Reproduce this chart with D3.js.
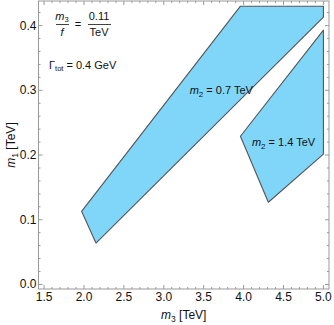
<!DOCTYPE html>
<html>
<head>
<meta charset="utf-8">
<script src="https://cdn.jsdelivr.net/npm/d3@7"></script>
<style>
  body { margin: 0; background: #fff; }
  text { font-family: "Liberation Sans", Arial, sans-serif; fill: #111; }
</style>
</head>
<body>
<div id="chart"></div>
<script>
// regions in the (m3, m1) plane, TeV
var region07 = [[1.97, 0.113], [2.15, 0.064], [5.0, 0.413], [5.0, 0.430], [3.96, 0.430]];
var region14 = [[5.0, 0.393], [3.96, 0.229], [4.31, 0.127], [5.0, 0.2015]];
var regionLabels = [
    {m2: "0.7", x: 3.72, y: 0.30},
    {m2: "1.4", x: 4.5, y: 0.22}
];
var xTicks = [1.5, 2.0, 2.5, 3.0, 3.5, 4.0, 4.5, 5.0];
var yTicks = [0.0, 0.1, 0.2, 0.3, 0.4];

var W = 334, H = 325;
var svg = d3.select("#chart").append("svg")
    .attr("width", W)
    .attr("height", H);

var x = d3.scaleLinear().domain([1.43, 5.07]).range([38.5, 329]);
var y = d3.scaleLinear().domain([-0.007, 0.438]).range([289, 1]);

// regions
var line = d3.line().x(d => x(d[0])).y(d => y(d[1]));
[region07, region14].forEach(function(r) {
    svg.append("path")
        .attr("d", line(r) + "Z")
        .attr("fill", "#80d6f8")
        .attr("stroke", "#555")
        .attr("stroke-width", 1.1)
        .attr("stroke-linejoin", "round");
});

// frame
var x0 = x.range()[0], x1 = x.range()[1], y0 = y.range()[0], y1 = y.range()[1];
svg.append("rect")
    .attr("x", x0).attr("y", y1)
    .attr("width", x1 - x0).attr("height", y0 - y1)
    .attr("fill", "none").attr("stroke", "#999").attr("stroke-width", 1);

// ticks, inward on all four sides
var xMinor = d3.range(15, 51).map(d => d / 10);
var yMinor = d3.range(0, 22).map(d => d / 50);
var tickG = svg.append("g").attr("stroke", "#999").attr("stroke-width", 1);
xMinor.forEach(function(v) {
    var major = Math.abs(v * 2 - Math.round(v * 2)) < 1e-6;
    var len = major ? 4 : 2;
    tickG.append("line").attr("x1", x(v)).attr("x2", x(v)).attr("y1", y0).attr("y2", y0 - len);
    tickG.append("line").attr("x1", x(v)).attr("x2", x(v)).attr("y1", y1).attr("y2", y1 + len);
});
yMinor.forEach(function(v) {
    var major = Math.abs(v * 10 - Math.round(v * 10)) < 1e-6;
    var len = major ? 4 : 2;
    tickG.append("line").attr("y1", y(v)).attr("y2", y(v)).attr("x1", x0).attr("x2", x0 + len);
    tickG.append("line").attr("y1", y(v)).attr("y2", y(v)).attr("x1", x1).attr("x2", x1 - len);
});

// tick labels
svg.selectAll(".xl").data(xTicks).enter().append("text")
    .attr("x", d => x(d)).attr("y", y0 + 12)
    .attr("text-anchor", "middle")
    .style("font-size", "12px")
    .text(d => d.toFixed(1));
svg.selectAll(".yl").data(yTicks).enter().append("text")
    .attr("x", x0 - 2).attr("y", d => y(d) + 4)
    .attr("text-anchor", "end")
    .style("font-size", "12px")
    .text(d => d.toFixed(1));

// axis titles
var xt = svg.append("text")
    .attr("x", (x0 + x1) / 2).attr("y", 319)
    .attr("text-anchor", "middle")
    .style("font-size", "12px");
xt.append("tspan").style("font-style", "italic").text("m");
xt.append("tspan").attr("dy", 3).style("font-size", "8.5px").text("3");
xt.append("tspan").attr("dy", -3).text(" [TeV]");

var yt = svg.append("text")
    .attr("transform", "translate(15," + ((y0 + y1) / 2) + ") rotate(-90)")
    .attr("text-anchor", "middle")
    .style("font-size", "12px");
yt.append("tspan").style("font-style", "italic").text("m");
yt.append("tspan").attr("dy", 3).style("font-size", "8.5px").text("1");
yt.append("tspan").attr("dy", -3).text(" [TeV]");

// region labels
regionLabels.forEach(function(l) {
    var t = svg.append("text")
        .attr("x", x(l.x)).attr("y", y(l.y) + 4)
        .attr("text-anchor", "middle")
        .style("font-size", "11px");
    t.append("tspan").style("font-style", "italic").text("m");
    t.append("tspan").attr("dy", 3).style("font-size", "8px").text("2");
    t.append("tspan").attr("dy", -3).text(" = " + l.m2 + " TeV");
});

// annotation: m3/f = 0.11/TeV
var ann = svg.append("g").style("font-size", "11px");
var num = ann.append("text").attr("x", 62).attr("y", 20).attr("text-anchor", "middle");
num.append("tspan").style("font-style", "italic").text("m");
num.append("tspan").attr("dy", 2).style("font-size", "7.5px").text("3");
ann.append("line").attr("x1", 56).attr("x2", 69).attr("y1", 24.5).attr("y2", 24.5)
    .attr("stroke", "#111").attr("stroke-width", 0.8);
ann.append("text").attr("x", 62).attr("y", 36).attr("text-anchor", "middle")
    .style("font-style", "italic").text("f");
ann.append("text").attr("x", 78).attr("y", 28).attr("text-anchor", "middle").text("=");
ann.append("text").attr("x", 99).attr("y", 20).attr("text-anchor", "middle").text("0.11");
ann.append("line").attr("x1", 88).attr("x2", 111).attr("y1", 24.5).attr("y2", 24.5)
    .attr("stroke", "#111").attr("stroke-width", 0.8);
ann.append("text").attr("x", 99).attr("y", 36).attr("text-anchor", "middle").text("TeV");

var g = ann.append("text").attr("x", 49).attr("y", 69);
g.append("tspan").text("Γ");
g.append("tspan").attr("dy", 2).style("font-size", "7.5px").text("tot");
g.append("tspan").attr("dy", -2).text(" = 0.4 GeV");
</script>
</body>
</html>
